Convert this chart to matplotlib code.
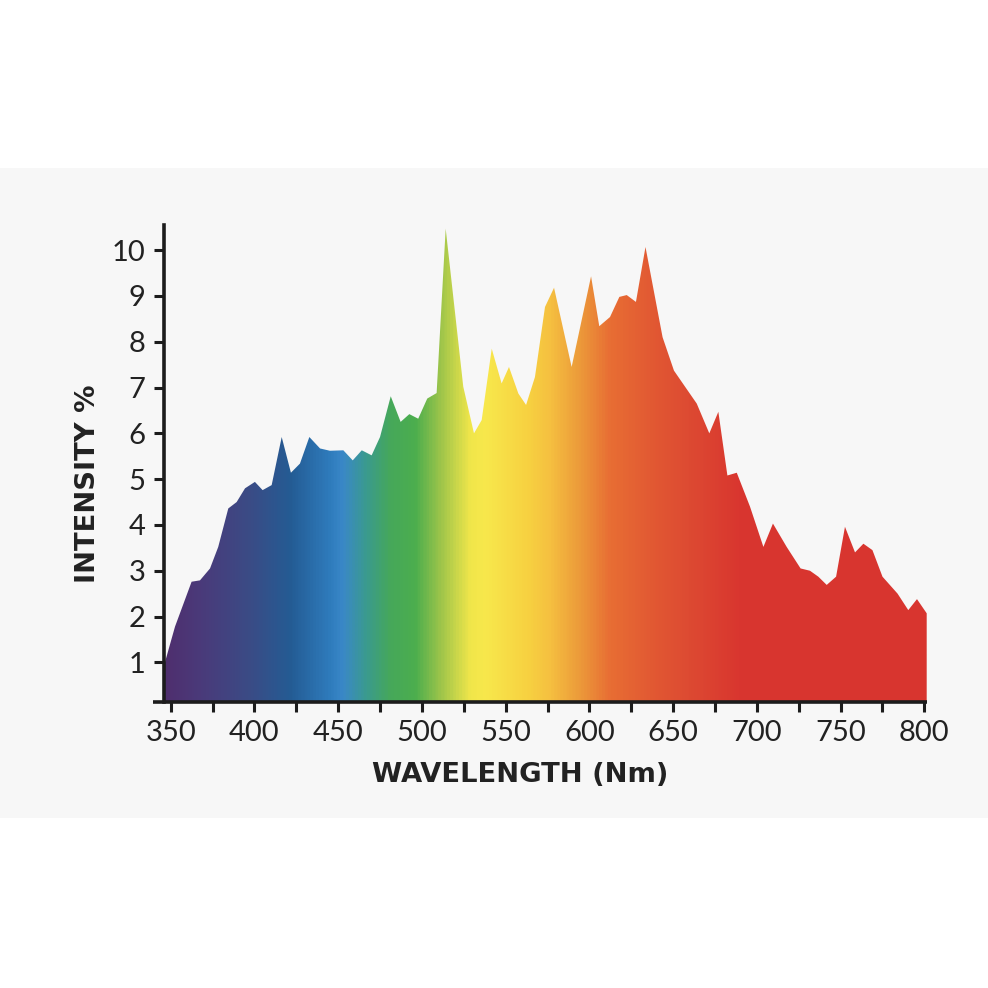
import numpy as np
import matplotlib
matplotlib.use("Agg")
import matplotlib.pyplot as plt
from matplotlib.colors import LinearSegmentedColormap
from matplotlib.patches import Rectangle, PathPatch

# ---------------- data ----------------
wavelength_nm = [346.2, 352.6, 362.5, 367.5, 373.5, 378.4, 384.4, 389.4, 394.4, 400.3,
                 404.9, 410.3, 416.3, 421.8, 427.2, 432.8, 439.2, 445.1, 453.1, 458.7,
                 464.1, 470.0, 475.0, 481.4, 487.3, 492.5, 497.8, 503.2, 508.8, 514.2,
                 524.7, 531.1, 535.7, 541.7, 547.6, 552.0, 557.6, 562.2, 567.5, 573.5,
                 578.9, 589.4, 601.0, 605.9, 612.3, 617.9, 622.3, 627.8, 633.5, 643.7,
                 650.5, 657.1, 664.1, 671.6, 677.0, 682.4, 688.0, 695.9, 703.9, 709.6,
                 717.8, 726.1, 731.7, 736.7, 741.7, 747.3, 752.6, 758.6, 763.6, 769.0,
                 775.0, 784.0, 790.4, 795.6, 801.4]
intensity = [0.95, 1.78, 2.76, 2.79, 3.05, 3.52, 4.36, 4.50, 4.80, 4.94,
             4.76, 4.87, 5.92, 5.14, 5.34, 5.92, 5.67, 5.62, 5.63, 5.41,
             5.63, 5.52, 5.92, 6.81, 6.25, 6.42, 6.32, 6.76, 6.88, 10.47,
             7.02, 6.00, 6.29, 7.85, 7.09, 7.45, 6.87, 6.62, 7.23, 8.76,
             9.18, 7.45, 9.43, 8.34, 8.54, 8.98, 9.02, 8.87, 10.07, 8.10,
             7.37, 7.02, 6.65, 6.00, 6.47, 5.08, 5.14, 4.40, 3.52, 4.03,
             3.52, 3.05, 3.00, 2.87, 2.69, 2.87, 3.96, 3.40, 3.59, 3.45,
             2.87, 2.50, 2.14, 2.38, 2.07]

spectrum_nm = [346.2, 367.5, 397.4, 421.2, 445.1, 452.3, 466.0, 480.9, 495.9, 510.8,
               528.7, 537.7, 564.5, 576.5, 594.4, 612.3, 636.2, 660.1, 689.9, 801.4]
spectrum_colors = ['#4f2f6e', '#4a3a7a', '#3a4c86', '#245c94', '#2f7cbd', '#3a88c8',
                   '#3a9a90', '#46a85a', '#4cae4e', '#9cc44a', '#f0e64a', '#f8e84c',
                   '#f7d040', '#f5c040', '#ec9a3a', '#e86e34', '#e25a33', '#dd4a32',
                   '#d9362f', '#d83530']

x_major = [350, 400, 450, 500, 550, 600, 650, 700, 750, 800]
x_minor = [375, 425, 475, 525, 575, 625, 675, 725, 775]
y_ticks = [1, 2, 3, 4, 5, 6, 7, 8, 9, 10]

x_title = "WAVELENGTH (Nm)"
y_title = "INTENSITY %"

# ---------------- figure ----------------
W = 988
fig = plt.figure(figsize=(W / 100, W / 100), dpi=100)
fig.patch.set_facecolor("white")
fig.patches.append(Rectangle((0, 1 - 818 / W), 1, (818 - 168) / W,
                             transform=fig.transFigure, facecolor="#f7f7f7",
                             edgecolor="none", zorder=-10))

xl = (346.2, 801.4)
yl = (0.14, 10.55)
ax = fig.add_axes([164.3 / W, 1 - 701.7 / W, (926.7 - 164.3) / W, (701.7 - 225) / W])
ax.set_facecolor("none")

poly = ax.fill_between(wavelength_nm, intensity, yl[0], facecolor="none", edgecolor="none")
clip = PathPatch(poly.get_paths()[0], transform=ax.transData, facecolor="none", edgecolor="none")
ax.add_patch(clip)

pos = [(v - xl[0]) / (xl[1] - xl[0]) for v in spectrum_nm]
cmap = LinearSegmentedColormap.from_list("spec", list(zip(pos, spectrum_colors)))
grad = np.linspace(0, 1, 1200).reshape(1, -1)
im = ax.imshow(grad, cmap=cmap, aspect="auto", extent=[xl[0], xl[1], yl[0], yl[1]],
               origin="lower", interpolation="bilinear", zorder=1)
im.set_clip_path(clip)

ax.set_xlim(*xl)
ax.set_ylim(*yl)

dark = "#1c1c1c"
for s in ["top", "right", "bottom"]:
    ax.spines[s].set_visible(False)
ax.spines["left"].set_linewidth(2.6)
ax.spines["left"].set_color(dark)
ax.spines["left"].set_zorder(5)
ax.plot([-0.0145, 1.0], [0, 0], transform=ax.transAxes, clip_on=False,
        color=dark, lw=2.6, solid_capstyle="butt", zorder=5)

ax.set_xticks(x_major)
ax.set_xticks(x_minor, minor=True)
ax.set_yticks(y_ticks)
ax.tick_params(axis="both", which="both", direction="out", length=7.5, width=2.2,
               color=dark)
ax.tick_params(axis="both", which="major", labelsize=21, labelcolor="#222222", pad=6)
for lab in ax.get_xticklabels() + ax.get_yticklabels():
    lab.set_family(["Lato", "DejaVu Sans"])

fig.text(520.5 / W, 1 - 775 / W, x_title, ha="center", va="center", fontsize=19.7,
         fontweight="bold", family="DejaVu Sans", color="#222222")
fig.text(88 / W, 1 - 484 / W, y_title, ha="center", va="center", fontsize=19.7,
         fontweight="bold", family="DejaVu Sans", color="#222222", rotation=90)

fig.savefig("out.png", dpi=100)
